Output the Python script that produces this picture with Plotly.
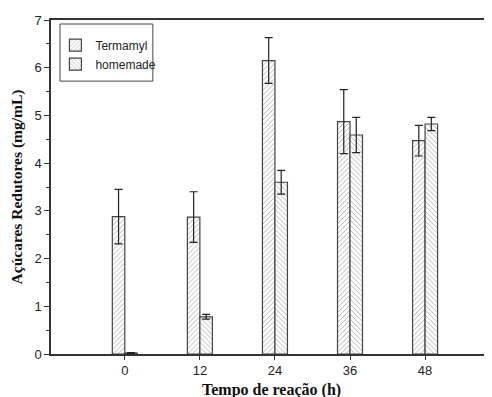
import plotly.graph_objects as go

times = [0, 12, 24, 36, 48]
termamyl = [2.88, 2.87, 6.15, 4.87, 4.47]
termamyl_err = [0.57, 0.53, 0.48, 0.67, 0.32]
homemade = [0.02, 0.78, 3.60, 4.59, 4.82]
homemade_err = [0.01, 0.05, 0.25, 0.37, 0.14]
x_ticks = [0, 12, 24, 36, 48]
y_ticks = [0, 1, 2, 3, 4, 5, 6, 7]
x_title = "Tempo de reação (h)"
y_title = "Açúcares Redutores (mg/mL)"

line_col = "#333333"

fig = go.Figure()
fig.add_trace(go.Bar(
    name="Termamyl", x=times, y=termamyl,
    error_y=dict(type="data", array=termamyl_err, color="#222222", thickness=1.2, width=4),
    marker=dict(color="white", line=dict(color="#444444", width=1.2),
                pattern=dict(shape="/", fgcolor="#555555", size=3.5, solidity=0.25)),
))
fig.add_trace(go.Bar(
    name="homemade", x=times, y=homemade,
    error_y=dict(type="data", array=homemade_err, color="#222222", thickness=1.2, width=4),
    marker=dict(color="white", line=dict(color="#444444", width=1.2),
                pattern=dict(shape="\\", fgcolor="#555555", size=3.5, solidity=0.25)),
))

# legend frame
fig.add_shape(type="rect", xref="paper", yref="paper",
              x0=0.0204, x1=0.231, y0=0.817, y1=0.988,
              line=dict(color="#444444", width=1), fillcolor="rgba(0,0,0,0)", layer="above")

# x-axis title as annotation
fig.add_annotation(text="<b>" + x_title + "</b>", xref="paper", yref="paper",
                   x=0.5, y=-0.108, xanchor="center", yanchor="middle", showarrow=False,
                   font=dict(family="Liberation Serif, Times New Roman", size=16, color="#111111"))

fig.update_layout(
    width=484, height=389,
    margin=dict(l=43, r=0, t=12, b=43),
    plot_bgcolor="white", paper_bgcolor="white",
    barmode="group", bargap=0.667, bargroupgap=0,
    font=dict(family="Liberation Sans, Arial", size=13, color="#222222"),
    showlegend=True,
    legend=dict(x=0.01, y=0.968, xanchor="left", yanchor="top",
                borderwidth=0, bgcolor="rgba(0,0,0,0)",
                font=dict(family="Liberation Sans, Arial", size=12, color="#222222"),
                itemwidth=30, tracegroupgap=0),
)
fig.update_xaxes(
    range=[-11.8, 58.7], tickvals=x_ticks, ticktext=[str(t) for t in x_ticks],
    automargin=False,
    showgrid=False, zeroline=False, showline=True, linecolor=line_col, linewidth=1.5,
    mirror=True, ticks="outside", ticklen=4, tickcolor=line_col, tickwidth=1.2,
)
fig.update_yaxes(
    range=[0, 7], tickvals=y_ticks, automargin=False,
    showgrid=False, zeroline=False, showline=True, linecolor=line_col, linewidth=1.5,
    ticks="outside", ticklen=5, tickcolor=line_col, tickwidth=1.2,
    minor=dict(dtick=0.5, ticks="outside", ticklen=3, tickcolor=line_col, showgrid=False),
    title=dict(text="<b>" + y_title + "</b>", standoff=9,
               font=dict(family="Liberation Serif, Times New Roman", size=15.5, color="#111111")),
)

fig.write_html("out.html")
